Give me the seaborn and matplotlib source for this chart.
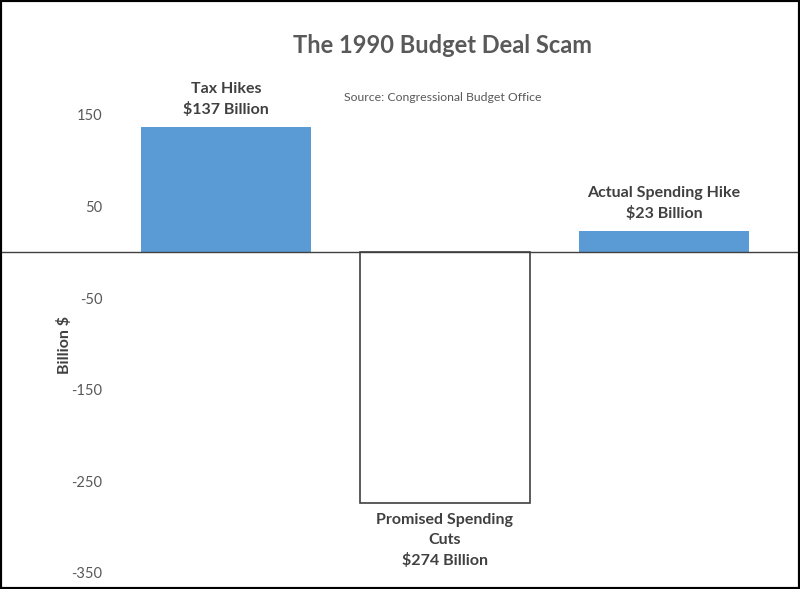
import matplotlib
matplotlib.use('Agg')
import matplotlib.pyplot as plt
import seaborn as sns
import pandas as pd
from matplotlib.patches import Rectangle

# data
categories = ['Tax Hikes', 'Promised Spending Cuts', 'Actual Spending Hike']
values = [137, -274, 23]
bar_labels = ['Tax Hikes\n$137 Billion',
              'Promised Spending\nCuts\n$274 Billion',
              'Actual Spending Hike\n$23 Billion']
yticks = [150, 50, -50, -150, -250, -350]

df = pd.DataFrame({'cat': categories, 'val': values})

sns.set_style('white')
plt.rcParams['font.family'] = ['Lato', 'DejaVu Sans']

fig = plt.figure(figsize=(8, 5.89), dpi=100)
ax = fig.add_axes([0.1456, 0.0272, 0.821, 0.8557])

palette = {'Tax Hikes': '#5B9BD5', 'Promised Spending Cuts': 'white',
           'Actual Spending Hike': '#5B9BD5'}
sns.barplot(data=df, x='cat', y='val', hue='cat', palette=palette,
            width=0.776, legend=False, ax=ax, saturation=1)

# white bar gets a dark outline
for p, v in zip(ax.patches, values):
    if v < 0:
        p.set_edgecolor('#404040')
        p.set_linewidth(1.2)
    else:
        p.set_edgecolor('none')

ax.set_ylim(-350, 200)
ax.set_xlim(-0.5, 2.5)
ax.set_yticks(yticks)
ax.set_yticklabels([str(t) for t in yticks])
ax.tick_params(axis='y', length=0, pad=10, labelsize=10.5, labelcolor='#595959')
ax.set_xticks([])
ax.set_xlabel('')
ax.set_ylabel('Billion $', fontsize=11.5, fontweight='bold', color='#404040')
ax.yaxis.set_label_coords(-0.068, 0.452)
for s in ax.spines.values():
    s.set_visible(False)

# zero line runs across the whole picture
ax.axhline(0, xmin=-116.5 / 657, xmax=(798 - 116.5) / 657, color='#404040',
           lw=1, clip_on=False, zorder=5)

for i, (v, lab) in enumerate(zip(values, bar_labels)):
    if v >= 0:
        ax.annotate(lab, (i, v), xytext=(0, 7), textcoords='offset points',
                    ha='center', va='bottom', fontsize=11.5, fontweight='bold',
                    color='#404040', linespacing=1.5)
    else:
        ax.annotate(lab, (i, v), xytext=(0, -7), textcoords='offset points',
                    ha='center', va='top', fontsize=11.5, fontweight='bold',
                    color='#404040', linespacing=1.5)

fig.text(0.553, 0.923, 'The 1990 Budget Deal Scam', ha='center', va='center',
         fontsize=17, fontweight='bold', color='#595959')
fig.text(0.554, 0.835, 'Source: Congressional Budget Office', ha='center',
         va='center', fontsize=8.8, color='#595959')

# black frame round the picture
fig.add_artist(Rectangle((0, 0), 1, 1, transform=fig.transFigure, fill=False,
                         edgecolor='black', lw=3))

fig.savefig('out.png', dpi=100)
